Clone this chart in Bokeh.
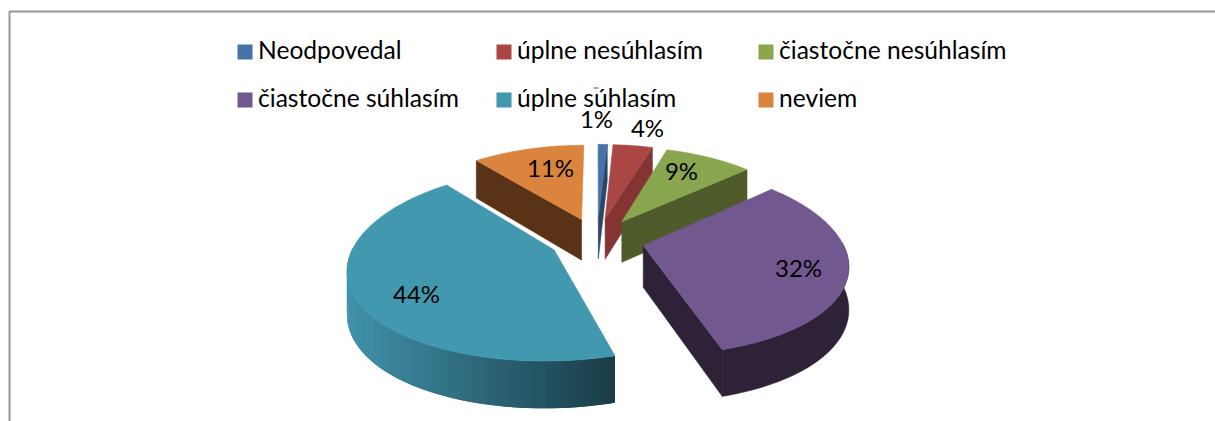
import math
from bokeh.plotting import figure
from bokeh.embed import file_html
from bokeh.resources import INLINE
from bokeh.core.properties import value

# ---------- data ----------
categories = ["Neodpovedal", "úplne nesúhlasím", "čiastočne nesúhlasím",
              "čiastočne súhlasím", "úplne súhlasím", "neviem"]
shares = [0.9, 3.9, 8.6, 32.0, 43.6, 11.0]
share_labels = ["1%", "4%", "9%", "32%", "44%", "11%"]

# ---------- style ----------
top_colors = ["#4572A7", "#AA4643", "#89A54E", "#71588F", "#4198AF", "#DB843D"]
wall_colors = ["#2B4668", "#843432", "#4F5B2A", "#2D2238", "#1B3F4A", "#5A3216"]
teal_rim_from = (64, 146, 170)
teal_rim_to = (26, 60, 71)
FONT = "Lato"
FS = "24px"
LEGEND_FS = "24.6px"

# ---------- layout: pixel coordinates of the photographed window ----------
CX, CY = 596.5, 239.0      # pie centre
RX, RY = 198.0, 91.0       # ellipse radii
KX, KY = 0.18, 0.15        # perspective
EXPLODE = 0.24
DEPTH, KD = 41.5, 0.11
legend_x = [237, 496, 758, 237, 496, 758]
legend_y = [51.5, 51.5, 51.5, 99.5, 99.5, 99.5]
SWATCH = 15
TEXT_GAP = 20.5
TEXT_DY = -2.5
label_x = [596, 647, 681, 798, 416, 550]
label_y = [118, 127, 170, 267, 293, 167]

p = figure(width=1215, height=421, x_range=(0, 1215), y_range=(421, 0),
           toolbar_location=None, output_backend="svg", min_border=0,
           outline_line_color=None, background_fill_color="white")
p.axis.visible = False
p.grid.visible = False

# frame of the pasted chart (open at right and bottom)
p.line([9, 9, 1215], [421, 11, 11], line_color="#979797", line_width=2)


def project(X, Y):
    return (CX + RX * X / (1 + KX * Y), CY - RY * Y / (1 + KY * Y))


def drop(Y):
    return DEPTH / (1 + KD * Y)


def world(deg, r, ox, oy):
    t = math.radians(deg)
    return ox + r * math.sin(t), oy + r * math.cos(t)


def add_patch(xs, ys, color):
    p.patch(xs, ys, fill_color=color, line_color=color, line_width=0.6)


def lerp(a, b, f):
    return "#%02x%02x%02x" % tuple(round(a[i] + (b[i] - a[i]) * f) for i in range(3))


total = sum(shares)
bounds = [0.0]
for s in shares:
    bounds.append(bounds[-1] + 360.0 * s / total)

order = [5, 0, 1, 2, 3, 4]
for i in order:
    a0, a1 = bounds[i], bounds[i + 1]
    mid = math.radians((a0 + a1) / 2)
    ox, oy = EXPLODE * math.sin(mid), EXPLODE * math.cos(mid)
    n = max(2, int((a1 - a0) / 1.0) + 1)
    angles = [a0 + (a1 - a0) * k / (n - 1) for k in range(n)]
    apex = project(ox, oy)
    apex_d = drop(oy)

    # radial cut faces that look towards the viewer
    for deg, visible in ((a0, math.sin(math.radians(a0)) < -1e-6),
                         (a1, math.sin(math.radians(a1)) > 1e-6)):
        if visible:
            wx, wy = world(deg, 1, ox, oy)
            sx, sy = project(wx, wy)
            add_patch([apex[0], sx, sx, apex[0]],
                      [apex[1], sy, sy + drop(wy), apex[1] + apex_d],
                      wall_colors[i])

    # outer rim (near half only)
    near = [d for d in angles if math.cos(math.radians(d)) < 0.03]
    if len(near) > 1:
        if i == 4:
            # shaded rim: overlapping strips, painted right to left
            for k in range(len(near) - 1):
                w0 = world(near[k], 1, ox, oy)
                w1 = world(near[min(k + 2, len(near) - 1)], 1, ox, oy)
                s0, s1 = project(*w0), project(*w1)
                f = min(1.0, max(0.0, (s0[0] - 348) / (617 - 348)))
                p.patch([s0[0], s1[0], s1[0], s0[0]],
                        [s0[1], s1[1], s1[1] + drop(w1[1]), s0[1] + drop(w0[1])],
                        fill_color=lerp(teal_rim_from, teal_rim_to, f), line_color=None)
        else:
            pts = [world(d, 1, ox, oy) for d in near]
            up = [project(*w) for w in pts]
            add_patch([q[0] for q in up] + [q[0] for q in reversed(up)],
                      [q[1] for q in up] + [q[1] + drop(w[1]) for q, w in zip(reversed(up), reversed(pts))],
                      wall_colors[i])

    # top face
    rim = [project(*world(d, 1, ox, oy)) for d in angles]
    add_patch([apex[0]] + [q[0] for q in rim], [apex[1]] + [q[1] for q in rim], top_colors[i])

# data labels
p.text(label_x, label_y, text=share_labels, text_font=value(FONT), text_font_size=value(FS),
       text_color="#000000", text_align="center", text_baseline="middle")

# legend
for x, y, name, col in zip(legend_x, legend_y, categories, top_colors):
    p.rect([x + SWATCH / 2], [y], width=SWATCH, height=SWATCH, fill_color=col, line_color=None)
    p.text([x + TEXT_GAP], [y + TEXT_DY], text=[name], text_font=value(FONT), text_font_size=value(LEGEND_FS),
           text_color="#000000", text_align="left", text_baseline="middle")

# short leader stroke of the 1% label, just above the legend text
p.line([593, 598], [87.5, 87.5], line_color="#555555", line_width=1)

open("out.html", "w").write(file_html(p, INLINE))
